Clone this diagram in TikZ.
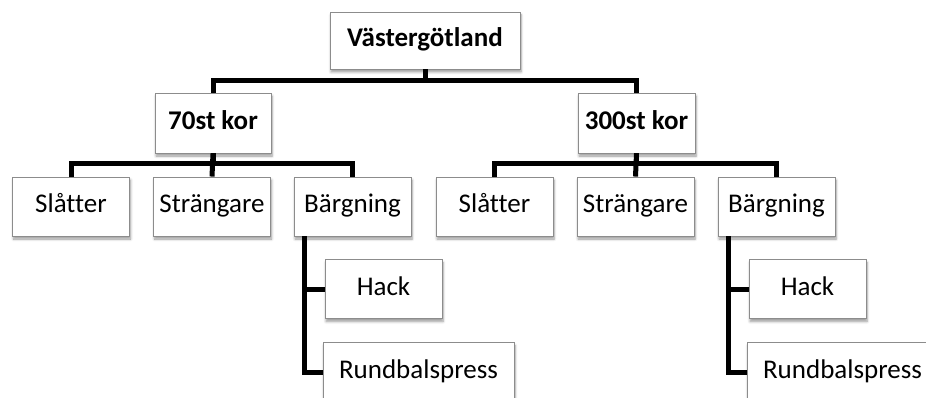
\documentclass[tikz,border=0pt]{standalone}
\usepackage{fontspec}
\setmainfont{Carlito}[Ligatures=NoCommon]
\usetikzlibrary{shadows.blur}
\begin{document}
\begin{tikzpicture}[x=1pt,y=-1pt,
  box/.style={draw=black!45, line width=0.9pt, fill=white, inner sep=0pt,
    minimum width=117pt, minimum height=59pt, text height=18pt, text depth=5pt,
    font=\fontsize{27}{31}\selectfont,
    blur shadow={shadow xshift=1pt, shadow yshift=-3pt, shadow blur steps=6,
      shadow blur radius=2.5pt, shadow opacity=40}},
  head/.style={box, font=\fontsize{27}{31}\selectfont\bfseries},
  conn/.style={line width=5pt, black, line join=miter}]
\useasboundingbox (0,0) rectangle (926,398);
\clip (0,0) rectangle (926,398);

% root
\node[head, minimum width=190pt, minimum height=57pt] (root) at (425,40.5) {Västergötland};

% two farms
\node[head, minimum width=116pt, minimum height=60pt] (ka) at (213,123) {70st kor};
\node[head, minimum width=117pt, minimum height=60pt] (kb) at (636.5,123) {300st kor};

% tasks, left farm
\node[box] (sa) at (71,206.5) {Slåtter};
\node[box] (ta) at (212,206.5) {Strängare};
\node[box] (ba) at (352.5,206.5) {Bärgning};
\node[box] (ha) at (383.5,289) {Hack};
\node[box, minimum width=191pt] (ra) at (418.5,372) {Rundbalspress};

% tasks, right farm
\node[box] (sb) at (494.5,206.5) {Slåtter};
\node[box] (tb) at (635.5,206.5) {Strängare};
\node[box] (bb) at (776.5,206.5) {Bärgning};
\node[box] (hb) at (807.5,289) {Hack};
\node[box, minimum width=191pt] (rb) at (842.5,372) {Rundbalspress};

% connectors
\draw[conn] (root.south) -- ++(0,11) -| (ka.north);
\draw[conn] (root.south) ++(0,11) -| (kb.north);

\draw[conn] (ka.south) -- ++(0,10) -| (sa.north);
\draw[conn] (ka.south) ++(0,10) -| (ba.north);
\draw[conn] (ka.south) -- (ta.north);

\draw[conn] (kb.south) -- ++(0,10) -| (sb.north);
\draw[conn] (kb.south) ++(0,10) -| (bb.north);
\draw[conn] (kb.south) -- (tb.north);

\draw[conn] (ba.south west) ++(11,0) |- (ha.west);
\draw[conn] (ba.south west) ++(11,0) |- (ra.west);
\draw[conn] (bb.south west) ++(11,0) |- (hb.west);
\draw[conn] (bb.south west) ++(11,0) |- (rb.west);
\end{tikzpicture}
\end{document}
